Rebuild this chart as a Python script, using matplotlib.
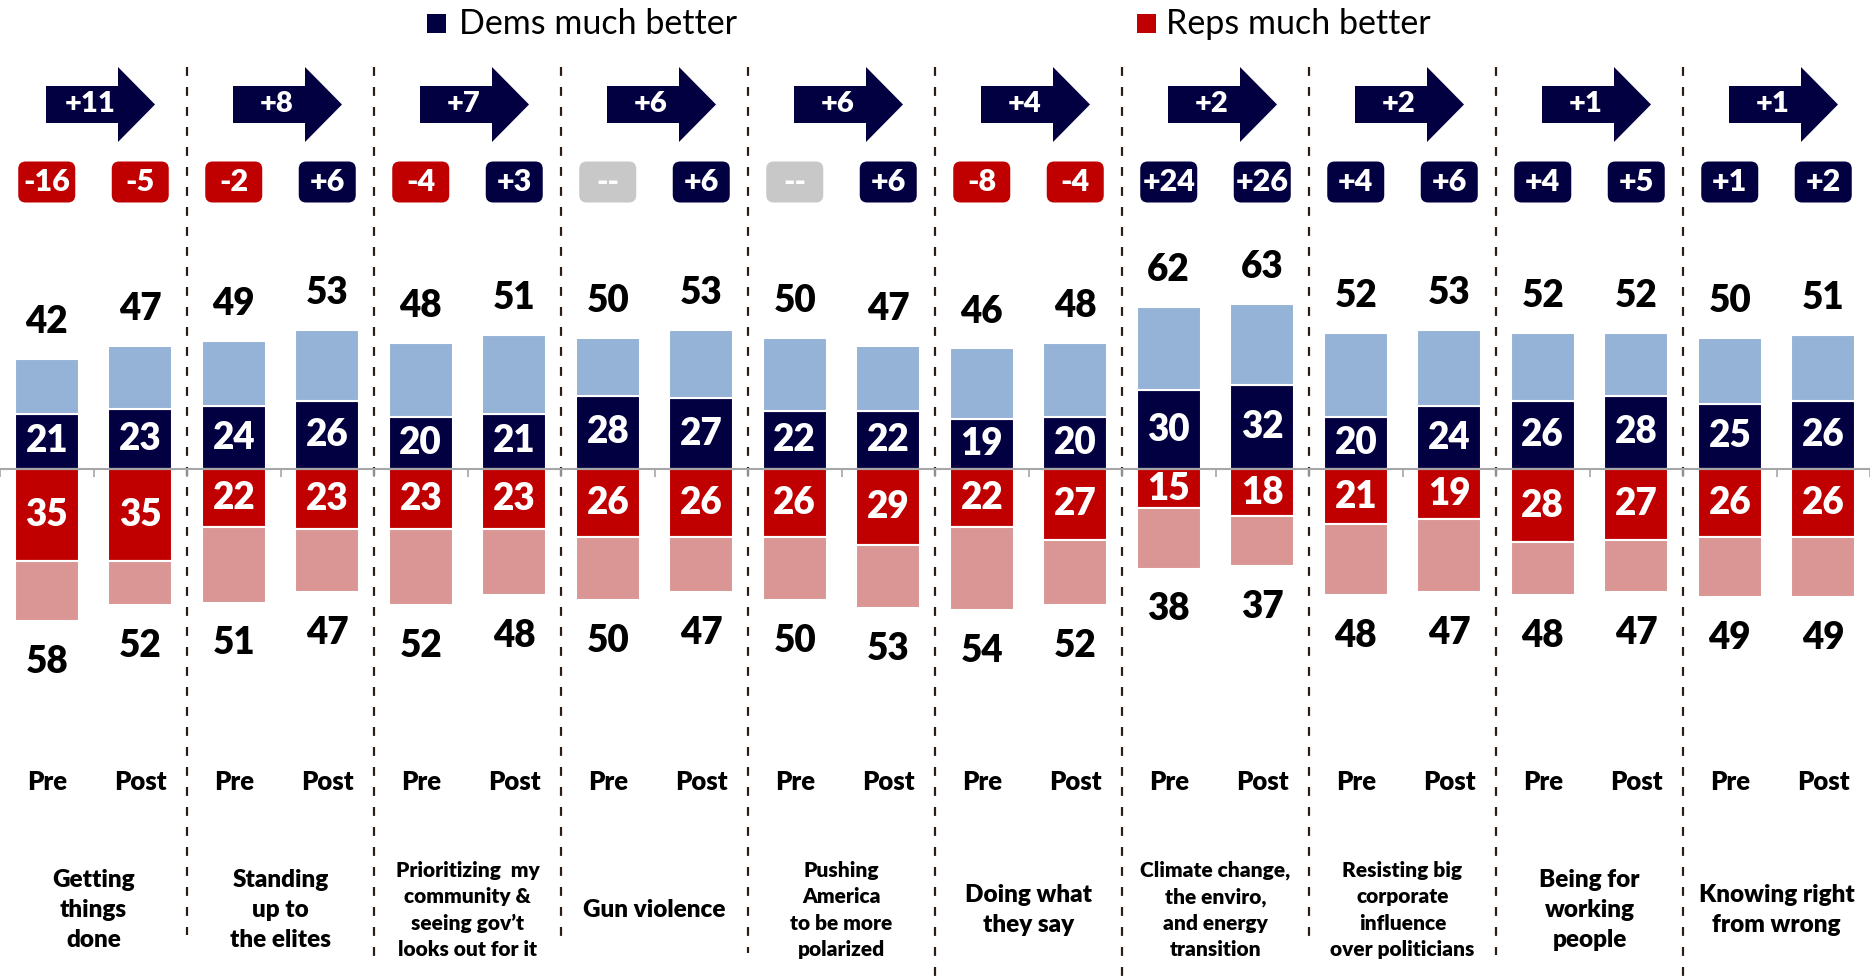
import matplotlib.pyplot as plt
import numpy as np
from matplotlib import font_manager
from matplotlib.patches import FancyArrow, FancyBboxPatch, Rectangle

OUTPUT_PATH = "out.png"

CATEGORIES = [
    "Getting\nthings\ndone",
    "Standing\nup to\nthe elites",
    "Prioritizing  my\ncommunity &\nseeing gov\u2019t\nlooks out for it",
    "Gun violence",
    "Pushing\nAmerica\nto be more\npolarized",
    "Doing what\nthey say",
    "Climate change,\nthe enviro,\nand energy\ntransition",
    "Resisting big\ncorporate\ninfluence\nover politicians",
    "Being for\nworking\npeople",
    "Knowing right\nfrom wrong",
]
PERIODS = ["Pre", "Post"]
DEM_TOTAL_PRE = [42, 49, 48, 50, 50, 46, 62, 52, 52, 50]
DEM_TOTAL_POST = [47, 53, 51, 53, 47, 48, 63, 53, 52, 51]
DEM_MUCH_PRE = [21, 24, 20, 28, 22, 19, 30, 20, 26, 25]
DEM_MUCH_POST = [23, 26, 21, 27, 22, 20, 32, 24, 28, 26]
REP_MUCH_PRE = [35, 22, 23, 26, 26, 22, 15, 21, 28, 26]
REP_MUCH_POST = [35, 23, 23, 26, 29, 27, 18, 19, 27, 26]
REP_TOTAL_PRE = [58, 51, 52, 50, 50, 54, 38, 48, 48, 49]
REP_TOTAL_POST = [52, 47, 48, 47, 53, 52, 37, 47, 47, 49]
NET_PRE = ["-16", "-2", "-4", "--", "--", "-8", "+24", "+4", "+4", "+1"]
NET_POST = ["-5", "+6", "+3", "+6", "+6", "-4", "+26", "+6", "+5", "+2"]
SHIFT = ["+11", "+8", "+7", "+6", "+6", "+4", "+2", "+2", "+1", "+1"]
LEGEND_LABELS = ["Dems much better", "Reps much better"]

NAVY = "#020040"
LIGHT_BLUE = "#95b3d7"
RED = "#c00000"
PINK = "#d99694"
GRAY_BADGE = "#c8c8c8"
AXIS_GRAY = "#a6a6a6"
DIVIDER = "#2b1d14"

# layout, in pixels of the 1870x977 canvas
FIG_W, FIG_H, DPI = 1870, 977, 100
GROUP_PX = 187.0
BASE_PX = 469.0
PX_PER_UNIT = 2.62
BAR_WIDTH = 0.342
OFFSETS = [-0.25, 0.25]
NUM_WEIGHT = "heavy"
TEXT_WEIGHT = "heavy"
NUM_SIZE = 26.5


def ypx(p: float) -> float:
    return (BASE_PX - p) / PX_PER_UNIT


def xpx(p: float) -> float:
    return p / GROUP_PX - 0.5


def pick_font() -> str:
    fonts = font_manager.fontManager.ttflist
    for name in ["Lato", "Open Sans", "DejaVu Sans"]:
        weights = {f.weight for f in fonts if f.name == name}
        if any(isinstance(w, int) and w >= 700 for w in weights) or "bold" in weights:
            return name
    return "DejaVu Sans"


def draw_bars(ax: plt.Axes) -> None:
    x = np.arange(len(CATEGORIES))
    series = [
        (DEM_TOTAL_PRE, DEM_MUCH_PRE, REP_MUCH_PRE, REP_TOTAL_PRE),
        (DEM_TOTAL_POST, DEM_MUCH_POST, REP_MUCH_POST, REP_TOTAL_POST),
    ]
    for off, (dem_tot, dem_much, rep_much, rep_tot) in zip(OFFSETS, series):
        dem_tot = np.asarray(dem_tot)
        dem_much = np.asarray(dem_much)
        rep_much = np.asarray(rep_much)
        rep_tot = np.asarray(rep_tot)
        xs = x + off
        kw = dict(width=BAR_WIDTH, edgecolor="white", linewidth=1.5)
        ax.bar(xs, dem_much, color=NAVY, **kw)
        ax.bar(xs, dem_tot - dem_much, bottom=dem_much, color=LIGHT_BLUE, **kw)
        ax.bar(xs, -rep_much, color=RED, **kw)
        ax.bar(xs, -(rep_tot - rep_much), bottom=-rep_much, color=PINK, **kw)
        for xi, dt, dm, rm, rt in zip(xs, dem_tot, dem_much, rep_much, rep_tot):
            ax.text(xi, dm / 2, str(dm), color="white", fontsize=NUM_SIZE,
                    fontweight=NUM_WEIGHT, ha="center", va="center")
            ax.text(xi, -rm / 2, str(rm), color="white", fontsize=NUM_SIZE,
                    fontweight=NUM_WEIGHT, ha="center", va="center")
            ax.text(xi, dt + 14.1, str(dt), color="black", fontsize=NUM_SIZE,
                    fontweight=NUM_WEIGHT, ha="center", va="center")
            ax.text(xi, -rt - 15.6, str(rt), color="black", fontsize=NUM_SIZE,
                    fontweight=NUM_WEIGHT, ha="center", va="center")


def badge_color(label: str) -> str:
    if label == "--":
        return GRAY_BADGE
    return RED if label.startswith("-") else NAVY


def draw_badges(ax: plt.Axes) -> None:
    w = 57 / GROUP_PX
    h = 41 / PX_PER_UNIT
    cy = ypx(182)
    aspect = GROUP_PX / PX_PER_UNIT
    for i in range(len(CATEGORIES)):
        for off, label in zip(OFFSETS, (NET_PRE[i], NET_POST[i])):
            cx = i + off
            box = FancyBboxPatch(
                (cx - w / 2, cy - h / 2), w, h,
                boxstyle="round,pad=0,rounding_size=0.04",
                mutation_aspect=aspect,
                facecolor=badge_color(label), edgecolor="none",
            )
            ax.add_patch(box)
            ax.text(cx, cy, label, color="white", fontsize=22,
                    fontweight=NUM_WEIGHT, ha="center", va="center")


def draw_arrows(ax: plt.Axes) -> None:
    cy = ypx(104.5)
    start = -47.5 / GROUP_PX
    length = 109 / GROUP_PX
    for i, label in enumerate(SHIFT):
        arrow = FancyArrow(
            i + start, cy, length, 0,
            width=37 / PX_PER_UNIT, head_width=75 / PX_PER_UNIT,
            head_length=37 / GROUP_PX, length_includes_head=True,
            facecolor=NAVY, edgecolor="none",
        )
        ax.add_patch(arrow)
        ax.text(i - 0.02, cy, label, color="white", fontsize=21,
                fontweight=NUM_WEIGHT, ha="center", va="center")


def draw_labels(ax: plt.Axes) -> None:
    for i, cat in enumerate(CATEGORIES):
        for off, period in zip(OFFSETS, PERIODS):
            ax.text(i + off, ypx(782), period, fontsize=18.5, fontweight=TEXT_WEIGHT,
                    ha="center", va="center")
        n_lines = cat.count("\n") + 1
        size = 15 if n_lines >= 4 else 17.5
        ax.text(i, ypx(910), cat, fontsize=size, fontweight=TEXT_WEIGHT,
                ha="center", va="center", linespacing=1.45,
                multialignment="center")


def draw_dividers(ax: plt.Axes) -> None:
    ends = [935, 957, 937, 953, 977, 977, 937, 955, 977]
    for k, end in enumerate(ends, start=1):
        ax.plot([k - 0.5, k - 0.5], [ypx(67), ypx(end)], color=DIVIDER,
                linewidth=1.6, linestyle=(0, (4, 5)), zorder=0.5)


def draw_legend(ax: plt.Axes) -> None:
    items = [(427, 459, NAVY), (1137, 1166, RED)]
    for (sq_x, tx_x, color), label in zip(items, LEGEND_LABELS):
        ax.add_patch(Rectangle((xpx(sq_x), ypx(33)), 19 / GROUP_PX, 19 / PX_PER_UNIT,
                               facecolor=color, edgecolor="none"))
        ax.text(xpx(tx_x), ypx(24), label, fontsize=24.5, ha="left", va="center")


def build_plot() -> None:
    plt.rcParams["font.family"] = [pick_font(), "DejaVu Sans"]
    fig = plt.figure(figsize=(FIG_W / DPI, FIG_H / DPI), dpi=DPI)
    ax = fig.add_axes([0, 0, 1, 1])
    ax.set_xlim(-0.5, len(CATEGORIES) - 0.5)
    ax.set_ylim(ypx(FIG_H), ypx(0))

    draw_dividers(ax)
    draw_bars(ax)
    draw_badges(ax)
    draw_arrows(ax)
    draw_labels(ax)
    draw_legend(ax)

    for side in ("top", "left", "right"):
        ax.spines[side].set_visible(False)
    ax.spines["bottom"].set_position(("data", 0))
    ax.spines["bottom"].set_color(AXIS_GRAY)
    ax.spines["bottom"].set_linewidth(1.5)
    ax.set_xticks(np.arange(-0.5, len(CATEGORIES) - 0.4, 0.5))
    ax.tick_params(axis="x", direction="out", length=6, width=1.2,
                   color=AXIS_GRAY, labelbottom=False)
    ax.set_yticks([])

    fig.savefig(OUTPUT_PATH, dpi=DPI)
    plt.close(fig)


def main() -> None:
    build_plot()


if __name__ == "__main__":
    main()
